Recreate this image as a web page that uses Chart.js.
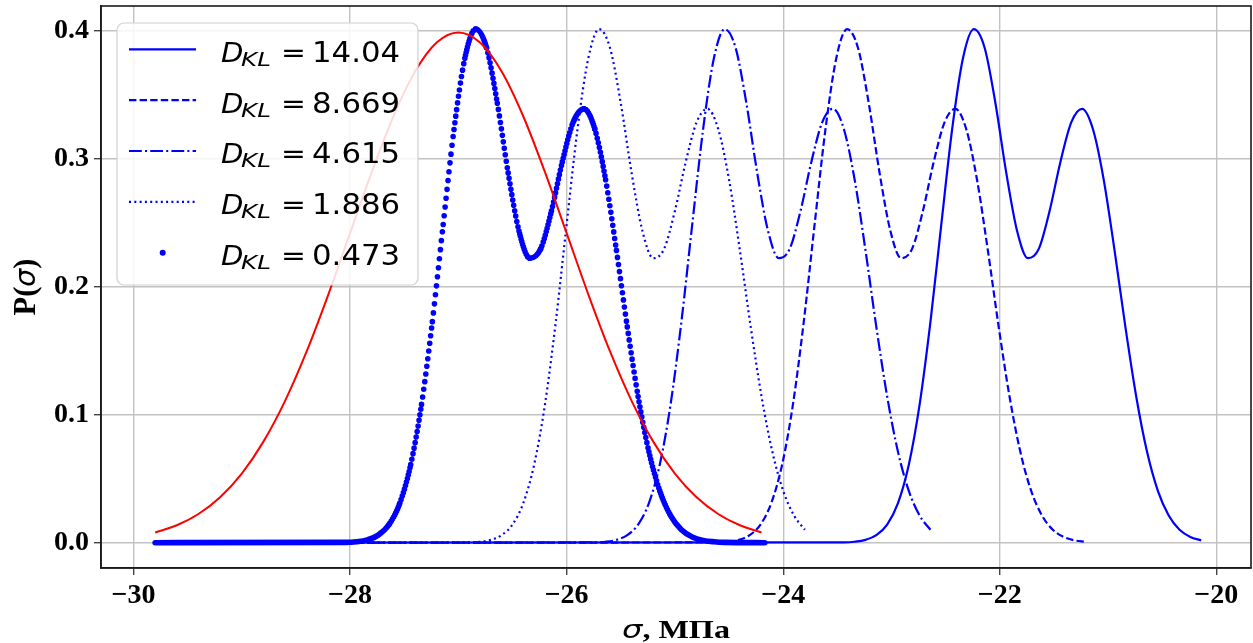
<!DOCTYPE html>
<html>
<head>
<meta charset="utf-8">
<script src="https://cdn.jsdelivr.net/npm/chart.js@4.4.0/dist/chart.umd.min.js"></script>
<style>
  html, body { margin: 0; padding: 0; background: #fff; }
  #wrap { width: 1253px; height: 643px; }
</style>
</head>
<body>
<div id="wrap"><canvas id="pdfChart" width="1253" height="643"></canvas></div>
<script>
var ctx = document.getElementById('pdfChart');

const X_MIN = -30.3;
const X_MAX = -19.68;
const Y_MIN = -0.0198;
const Y_MAX = 0.4196;

var xTickValues = [-30, -28, -26, -24, -22, -20];
var yTickValues = [0.0, 0.1, 0.2, 0.3, 0.4];

var dklLabels = ['14.04', '8.669', '4.615', '1.886', '0.473'];

// D_KL = 14.04 (solid)
var solidX = [-29.8, -23.44, -23.34, -23.24, -23.14, -23.04, -22.94, -22.84, -22.74, -22.64, -22.54, -22.44, -22.34,
  -22.24, -22.14, -22.04, -21.94, -21.84, -21.74, -21.64, -21.54, -21.44, -21.34, -21.24, -21.14, -21.04,
  -20.94, -20.84, -20.74, -20.64, -20.54, -20.44, -20.34, -20.24, -20.14];
var solidY = [0, 0.0002, 0.0007, 0.0022, 0.0059, 0.0142, 0.0310, 0.0610, 0.1081, 0.1728, 0.2488, 0.3231, 0.3787,
  0.4015, 0.3870, 0.3436, 0.2891, 0.2437, 0.2224, 0.2297, 0.2594, 0.2977, 0.3286, 0.3392, 0.3234, 0.2837,
  0.2285, 0.1687, 0.1143, 0.0710, 0.0405, 0.0212, 0.0101, 0.0045, 0.0018];

// D_KL = 8.669 (dashed)
var dashedX = [-29.8, -24.61, -24.51, -24.41, -24.31, -24.21, -24.11, -24.01, -23.91, -23.81, -23.71, -23.61, -23.51,
  -23.41, -23.31, -23.21, -23.11, -23.01, -22.91, -22.81, -22.71, -22.61, -22.51, -22.41, -22.31, -22.21,
  -22.11, -22.01, -21.91, -21.81, -21.71, -21.61, -21.51, -21.41, -21.31, -21.21];
var dashedY = [0, 0.0002, 0.0007, 0.0022, 0.0059, 0.0142, 0.0310, 0.0610, 0.1081, 0.1728, 0.2488, 0.3231, 0.3787,
  0.4015, 0.3870, 0.3436, 0.2891, 0.2437, 0.2224, 0.2297, 0.2594, 0.2977, 0.3286, 0.3392, 0.3234, 0.2837,
  0.2285, 0.1687, 0.1143, 0.0710, 0.0405, 0.0212, 0.0101, 0.0045, 0.0018, 0.0007];

// D_KL = 4.615 (dash-dot)
var dashDotX = [-29.8, -25.74, -25.64, -25.54, -25.44, -25.34, -25.24, -25.14, -25.04, -24.94, -24.84, -24.74, -24.64,
  -24.54, -24.44, -24.34, -24.24, -24.14, -24.04, -23.94, -23.84, -23.74, -23.64, -23.54, -23.44, -23.34,
  -23.24, -23.14, -23.04, -22.94, -22.84, -22.74, -22.64];
var dashDotY = [0, 0.0002, 0.0007, 0.0022, 0.0059, 0.0142, 0.0310, 0.0610, 0.1081, 0.1728, 0.2488, 0.3231, 0.3787,
  0.4015, 0.3870, 0.3436, 0.2891, 0.2437, 0.2224, 0.2297, 0.2594, 0.2977, 0.3286, 0.3392, 0.3234, 0.2837,
  0.2285, 0.1687, 0.1143, 0.0710, 0.0405, 0.0212, 0.0101];

// D_KL = 1.886 (dotted)
var dottedX = [-29.8, -26.90, -26.80, -26.70, -26.60, -26.50, -26.40, -26.30, -26.20, -26.10, -26.00, -25.90, -25.80,
  -25.70, -25.60, -25.50, -25.40, -25.30, -25.20, -25.10, -25.00, -24.90, -24.80, -24.70, -24.60, -24.50,
  -24.40, -24.30, -24.20, -24.10, -24.00, -23.90, -23.80];
var dottedY = [0, 0.0002, 0.0007, 0.0022, 0.0059, 0.0142, 0.0310, 0.0610, 0.1081, 0.1728, 0.2488, 0.3231, 0.3787,
  0.4015, 0.3870, 0.3436, 0.2891, 0.2437, 0.2224, 0.2297, 0.2594, 0.2977, 0.3286, 0.3392, 0.3234, 0.2837,
  0.2285, 0.1687, 0.1143, 0.0710, 0.0405, 0.0212, 0.0101];

// D_KL = 0.473 (point markers)
var markerX = [-29.8, -28.04, -27.94, -27.84, -27.74, -27.64, -27.54, -27.44, -27.34, -27.24, -27.14, -27.04, -26.94,
  -26.84, -26.74, -26.64, -26.54, -26.44, -26.34, -26.24, -26.14, -26.04, -25.94, -25.84, -25.74, -25.64,
  -25.54, -25.44, -25.34, -25.24, -25.14, -25.04, -24.94, -24.84, -24.74, -24.64, -24.54, -24.17];
var markerY = [0, 0.0002, 0.0007, 0.0022, 0.0059, 0.0142, 0.0310, 0.0610, 0.1081, 0.1728, 0.2488, 0.3231, 0.3787,
  0.4015, 0.3870, 0.3436, 0.2891, 0.2437, 0.2224, 0.2297, 0.2594, 0.2977, 0.3286, 0.3392, 0.3234, 0.2837,
  0.2285, 0.1687, 0.1143, 0.0710, 0.0405, 0.0212, 0.0101, 0.0045, 0.0018, 0.0007, 0.0002, 0];

// reference normal density (red)
var normalX = [-29.8, -29.6, -29.4, -29.2, -29.0, -28.8, -28.6, -28.4, -28.2, -28.0, -27.8, -27.6, -27.4, -27.2,
  -27.0, -26.8, -26.6, -26.4, -26.2, -26.0, -25.8, -25.6, -25.4, -25.2, -25.0, -24.8, -24.6, -24.4, -24.2];
var normalY = [0.0079, 0.0136, 0.0224, 0.0355, 0.0540, 0.0790, 0.1109, 0.1497, 0.1942, 0.2420, 0.2897, 0.3332,
  0.3683, 0.3910, 0.3989, 0.3910, 0.3683, 0.3332, 0.2897, 0.2420, 0.1942, 0.1497, 0.1109, 0.0790, 0.0540,
  0.0355, 0.0224, 0.0136, 0.0079];

const BLUE = '#0000ff';
const RED = '#ff0000';
const DOT_STEP = 1.0;   // horizontal px between marker samples

var dashStyles = [[], [7.4, 3.2], [12.8, 3.2, 2, 3.2], [2, 3.3], null];

function toPoints(xs, ys) {
  return xs.map(function(x, i) { return { x: x, y: ys[i] }; });
}

// marker curve: dots spaced by the sample step along x, merging into a band on flat parts
function markerDash(c) {
  var dx = Math.abs(c.p1.x - c.p0.x);
  var dy = Math.abs(c.p1.y - c.p0.y);
  var gap = DOT_STEP * Math.hypot(dx, dy) / Math.max(dx, 0.01);
  return gap < 2 ? [] : [0, gap];
}

function blueLine(label, xs, ys, dash) {
  return {
    label: label,
    data: toPoints(xs, ys),
    borderColor: BLUE,
    borderWidth: 2.2,
    borderDash: dash,
    pointRadius: 0,
    fill: false,
    cubicInterpolationMode: 'monotone'
  };
}

function fitText(c, text, x, y, font, sx, sy) {
  c.save();
  c.font = font;
  c.translate(x, y);
  c.scale(sx, sy || 1);
  c.fillText(text, 0, 0);
  c.restore();
}

function drawLegend(c) {
  c.save();
  c.beginPath();
  c.roundRect(117, 23, 301, 262, 7);
  c.fillStyle = 'rgba(255,255,255,0.85)';
  c.fill();
  c.strokeStyle = '#d0d0d0';
  c.lineWidth = 1.2;
  c.stroke();

  c.textBaseline = 'alphabetic';
  c.textAlign = 'left';
  for (var i = 0; i < dklLabels.length; i++) {
    var y = 49.3 + i * 50.85;
    c.strokeStyle = BLUE;
    c.fillStyle = BLUE;
    c.lineWidth = 2.2;
    if (dashStyles[i]) {
      c.setLineDash(dashStyles[i]);
      c.beginPath();
      c.moveTo(129, y);
      c.lineTo(196, y);
      c.stroke();
      c.setLineDash([]);
    } else {
      c.beginPath();
      c.arc(162.7, y, 3, 0, Math.PI * 2);
      c.fill();
    }
    var base = y + 12.4;
    c.fillStyle = '#000';
    fitText(c, 'D', 221, base, 'italic 27px "DejaVu Sans"', 1.08);
    fitText(c, 'KL', 241, base + 4, 'italic 19px "DejaVu Sans"', 1.3);
    fitText(c, '=', 281, base, '27px "DejaVu Sans"', 1.1);
    fitText(c, dklLabels[i], 312, base, '28px "DejaVu Sans"', 1.1);
  }
  c.restore();
}

function drawAxisTitles(c, a) {
  c.save();
  c.fillStyle = '#000';
  c.textBaseline = 'alphabetic';
  c.textAlign = 'left';

  // x title: sigma, MPa
  var f1 = 'italic 25px "DejaVu Sans"';
  var f2 = 'bold 25px "Liberation Serif"';
  c.font = f1; var w1 = c.measureText('\u03c3').width;
  c.font = f2; var w2 = c.measureText(', \u041c\u041f\u0430').width;
  var sx = 108 / (w1 + w2);
  var cx = (a.left + a.right) / 2;
  c.translate(cx - 54, 638);
  c.scale(sx, 1);
  c.font = f1; c.fillText('\u03c3', 0, 0);
  c.font = f2; c.fillText(', \u041c\u041f\u0430', w1, 0);
  c.restore();

  // y title: P(sigma)
  c.save();
  c.fillStyle = '#000';
  var g1 = 'bold 27px "Liberation Serif"';
  var g2 = 'italic 25px "DejaVu Sans"';
  c.font = g1; var p1 = c.measureText('P(').width; var p3 = c.measureText(')').width;
  c.font = g2; var p2 = c.measureText('\u03c3').width;
  var total = p1 + p2 + p3;
  var cy = (a.top + a.bottom) / 2;
  c.translate(35, cy);
  c.rotate(-Math.PI / 2);
  c.scale(57 / total, 1.15);
  c.translate(-total / 2, 0);
  c.font = g1; c.fillText('P(', 0, 0);
  c.font = g2; c.fillText('\u03c3', p1, 0);
  c.font = g1; c.fillText(')', p1 + p2, 0);
  c.restore();
}

var frameAndLegend = {
  id: 'frameAndLegend',
  afterDatasetsDraw: function(chart) {
    var c = chart.ctx, a = chart.chartArea;
    c.save();
    c.strokeStyle = '#1a1a1a';
    c.lineWidth = 1.6;
    c.strokeRect(a.left, a.top, a.right - a.left, a.bottom - a.top);
    c.restore();
    drawLegend(c);
    drawAxisTitles(c, a);
  }
};

var tickFont = { family: '"Liberation Serif", "Times New Roman", serif', weight: 'bold', size: 28 };

var pdfChart = new Chart(ctx, {
  type: 'line',
  data: {
    datasets: [
      {
        label: 'normal',
        data: toPoints(normalX, normalY),
        borderColor: RED,
        borderWidth: 2,
        pointRadius: 0,
        fill: false,
        cubicInterpolationMode: 'monotone'
      },
      {
        label: 'D_KL = ' + dklLabels[4],
        data: toPoints(markerX, markerY),
        borderColor: BLUE,
        borderWidth: 5.6,
        borderCapStyle: 'round',
        pointRadius: 0,
        fill: false,
        cubicInterpolationMode: 'monotone',
        segment: { borderDash: markerDash }
      },
      blueLine('D_KL = ' + dklLabels[3], dottedX, dottedY, dashStyles[3]),
      blueLine('D_KL = ' + dklLabels[2], dashDotX, dashDotY, dashStyles[2]),
      blueLine('D_KL = ' + dklLabels[1], dashedX, dashedY, dashStyles[1]),
      blueLine('D_KL = ' + dklLabels[0], solidX, solidY, dashStyles[0])
    ]
  },
  options: {
    responsive: false,
    animation: false,
    events: [],
    layout: { padding: { top: 6, right: 2, left: 0, bottom: 0 } },
    plugins: {
      legend: { display: false },
      tooltip: { enabled: false }
    },
    scales: {
      x: {
        type: 'linear',
        min: X_MIN,
        max: X_MAX,
        afterBuildTicks: function(s) { s.ticks = xTickValues.map(function(v) { return { value: v }; }); },
        afterFit: function(s) { s.height = 75; s.paddingLeft = 0; s.paddingRight = 0; },
        grid: { color: '#c2c2c2', lineWidth: 1.4, tickLength: 7, tickColor: '#444', tickWidth: 1.4 },
        border: { color: '#1a1a1a', width: 1.6 },
        ticks: {
          color: '#000',
          padding: 4,
          maxRotation: 0,
          autoSkip: false,
          font: tickFont,
          callback: function(v) { return (v < 0 ? '\u2212' : '') + Math.abs(v); }
        }
      },
      y: {
        type: 'linear',
        min: Y_MIN,
        max: Y_MAX,
        afterBuildTicks: function(s) { s.ticks = yTickValues.map(function(v) { return { value: v }; }); },
        afterFit: function(s) { s.width = 101; s.paddingTop = 0; s.paddingBottom = 0; },
        grid: { color: '#c2c2c2', lineWidth: 1.4, tickLength: 7, tickColor: '#444', tickWidth: 1.4 },
        border: { color: '#1a1a1a', width: 1.6 },
        ticks: {
          color: '#000',
          padding: 5,
          autoSkip: false,
          font: tickFont,
          callback: function(v) { return v.toFixed(1); }
        }
      }
    }
  },
  plugins: [frameAndLegend]
});
</script>
</body>
</html>
